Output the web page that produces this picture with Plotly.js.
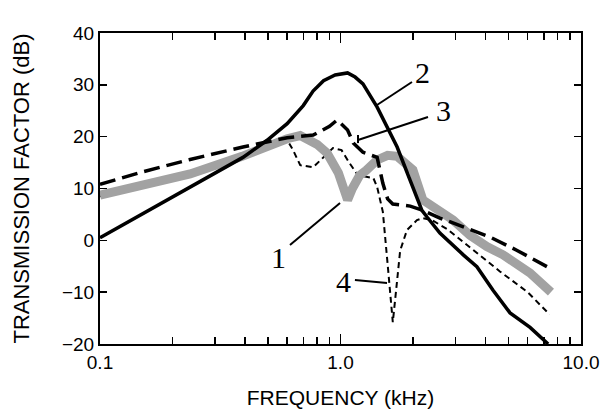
<!DOCTYPE html>
<html>
<head>
<meta charset="utf-8">
<script src="https://cdn.plot.ly/plotly-3.0.1.min.js"></script>
<style>html,body{margin:0;padding:0;background:#fff;}#chart{width:603px;height:412px;}</style>
</head>
<body>
<div id="chart"></div>
<script>
// Curve 1 (stippled band)
var f1 = [0.1, 0.237, 0.39, 0.5, 0.6, 0.68, 0.8, 0.88, 0.98, 1.04, 1.07, 1.12, 1.2, 1.28, 1.42, 1.57, 1.72, 2.0, 2.2, 2.94, 3.45, 4.06, 4.74, 6.14, 7.5];
var y1 = [8.7, 12.8, 16.2, 18.2, 19.6, 20.2, 18.5, 16.8, 13.0, 9.5, 7.8, 10.0, 12.5, 13.5, 15.5, 16.4, 16.2, 13.6, 7.8, 3.9, 1.0, -1.2, -2.8, -6.3, -10.0];
// Curve 2 (solid)
var f2 = [0.1, 0.2, 0.3, 0.393, 0.495, 0.6, 0.7, 0.769, 0.85, 0.95, 1.07, 1.15, 1.24, 1.42, 1.72, 1.95, 2.18, 2.29, 2.59, 3.24, 3.69, 4.3, 5.07, 6.14, 7.3];
var y2 = [0.5, 8.3, 12.8, 16.0, 19.3, 22.5, 26.0, 28.8, 30.8, 31.9, 32.3, 31.5, 30.2, 25.7, 18.0, 11.6, 5.8, 4.5, 1.4, -2.8, -5.1, -9.6, -14.0, -16.8, -20.0];
// Curve 3 (thick dashed)
var f3 = [0.1, 0.15, 0.237, 0.393, 0.6, 0.77, 0.9, 0.967, 1.0, 1.07, 1.13, 1.24, 1.42, 1.5, 1.57, 1.65, 1.8, 1.95, 2.2, 2.59, 3.24, 4.2, 5.4, 7.5];
var y3 = [10.8, 13.2, 15.6, 18.0, 19.8, 20.3, 22.0, 23.2, 22.6, 21.3, 18.8, 17.0, 16.0, 11.0, 8.0, 7.0, 6.8, 6.6, 5.8, 4.3, 2.6, 0.6, -1.9, -5.5];
// Curve 4 (fine dashed)
var f4 = [0.1, 0.237, 0.39, 0.5, 0.6, 0.635, 0.68, 0.77, 0.85, 0.93, 1.01, 1.09, 1.18, 1.29, 1.37, 1.42, 1.5, 1.58, 1.65, 1.70, 1.77, 1.89, 2.08, 2.2, 2.4, 2.77, 3.45, 4.6, 6.0, 7.4];
var y4 = [8.5, 12.6, 16.0, 18.0, 19.4, 17.4, 14.5, 14.1, 16.0, 17.8, 17.4, 14.9, 12.6, 12.2, 12.0, 10.3, 5.5, -6.0, -15.8, -10.0, -2.0, 2.0, 3.9, 4.3, 3.9, 2.2, -1.3, -6.0, -10.0, -14.3];

var xTickVals = [0.1, 1, 10];
var xTickText = ['0.1', '1.0', '10.0'];
var xMinorVals = [0.2,0.3,0.4,0.5,0.6,0.7,0.8,0.9,2,3,4,5,6,7,8,9];
var yTickVals = [-20, -10, 0, 10, 20, 30, 40];

var traces = [
  {x: f4, y: y4, mode: 'lines', line: {color: '#000', width: 2, dash: '6px,4px'}, hoverinfo: 'skip'},
  {x: f1, y: y1, mode: 'lines', line: {color: '#a2a2a2', width: 9}, hoverinfo: 'skip'},
  {x: f3, y: y3, mode: 'lines', line: {color: '#000', width: 3.5, dash: '16px,7px'}, hoverinfo: 'skip'},
  {x: f2, y: y2, mode: 'lines', line: {color: '#000', width: 3.5}, hoverinfo: 'skip'}
];

var lblFont = {family: 'Liberation Serif, Times New Roman, serif', size: 30, color: '#000'};
function lbl(t, x, y) { return {text: t, x: x, y: y, xref: 'paper', yref: 'paper', showarrow: false, font: lblFont, xanchor: 'center', yanchor: 'middle'}; }
function seg(x0, y0, x1, y1) { return {type: 'line', xref: 'paper', yref: 'paper', x0: x0, y0: y0, x1: x1, y1: y1, line: {color: '#000', width: 2}}; }

var layout = {
  width: 603, height: 412,
  margin: {l: 100, r: 22, t: 33, b: 68},
  paper_bgcolor: '#fff', plot_bgcolor: '#fff',
  showlegend: false,
  font: {family: 'Liberation Sans, Arial, sans-serif', color: '#000'},
  xaxis: {
    type: 'log', range: [-1, 1],
    tickvals: xTickVals, ticktext: xTickText,
    ticks: 'inside', ticklen: 10, tickwidth: 1.5, tickcolor: '#000',
    minor: {tickvals: xMinorVals, ticks: 'inside', ticklen: 7, tickwidth: 1.5, tickcolor: '#000', showgrid: false},
    showline: true, linecolor: '#000', linewidth: 2, mirror: 'ticks',
    showgrid: false, zeroline: false,
    tickfont: {size: 19, color: '#000'},
    title: {text: 'FREQUENCY (kHz)', font: {size: 21, color: '#000'}, standoff: 19}
  },
  yaxis: {
    range: [-20, 40],
    tickvals: yTickVals,
    ticks: 'inside', ticklen: 7, tickwidth: 1.5, tickcolor: '#000',
    showline: true, linecolor: '#000', linewidth: 2, mirror: 'ticks',
    showgrid: false, zeroline: false,
    tickfont: {size: 19, color: '#000'},
    title: {text: 'TRANSMISSION FACTOR (dB)', font: {size: 22, color: '#000'}, standoff: 26}
  },
  annotations: [
    lbl('2', 0.6715, 0.8714),
    lbl('3', 0.7131, 0.7524),
    lbl('1', 0.3701, 0.2797),
    lbl('4', 0.5052, 0.1994)
  ],
  shapes: [
    seg(0.6486, 0.8424, 0.5759, 0.7685),
    seg(0.6819, 0.7299, 0.5364, 0.6559),
    seg(0.5364, 0.672, 0.5364, 0.646),
    seg(0.395, 0.3183, 0.499, 0.4534),
    seg(0.530, 0.2058, 0.5967, 0.1961)
  ]
};

Plotly.newPlot('chart', traces, layout, {staticPlot: true, displayModeBar: false});
</script>
</body>
</html>
